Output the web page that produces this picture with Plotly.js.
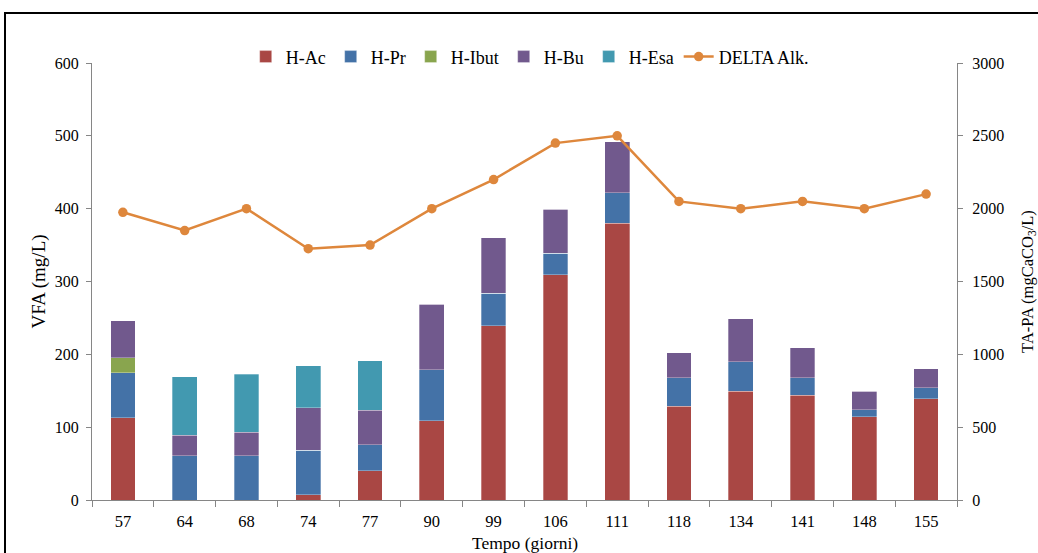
<!DOCTYPE html>
<html>
<head>
<meta charset="utf-8">
<script src="https://cdn.plot.ly/plotly-3.0.1.min.js"></script>
<style>
  html, body { margin: 0; padding: 0; overflow: hidden; background: #fff; }
  #chart { position: absolute; left: 0; top: 0; width: 1038px; height: 553px; }
  #frame { position: absolute; left: 4px; top: 12px; width: 1200px; height: 700px; border: 2px solid #000; pointer-events: none; }
</style>
</head>
<body>
<div id="chart"></div>
<div id="frame"></div>
<script>
const days = ['57','64','68','74','77','90','99','106','111','118','134','141','148','155'];
const hAc   = [113, 0, 0, 7, 40, 109, 239, 309, 380, 129, 149, 144, 114, 139];
const hPr   = [62, 61, 61, 61, 36, 70, 45, 30, 42, 39, 41, 24, 10, 15];
const hIbut = [20, 0, 0, 0, 0, 0, 0, 0, 0, 0, 0, 0, 0, 0];
const hBu   = [51, 28, 32, 59, 47, 90, 76, 60, 70, 34, 59, 41, 25, 26];
const hEsa  = [0, 80, 80, 57, 68, 0, 0, 0, 0, 0, 0, 0, 0, 0];
const deltaAlk = [1975, 1850, 2000, 1725, 1750, 2000, 2200, 2450, 2500, 2050, 2000, 2050, 2000, 2100];
const xTitle = 'Tempo (giorni)';

const font = 'Liberation Serif';
const axisColor = '#868686';

function bar(name, y, color) {
  return { type: 'bar', name: name, x: days, y: y, marker: { color: color, line: { color: 'rgba(255,255,255,0.6)', width: 0.5 } }, hoverinfo: 'x+y+name' };
}

const traces = [
  bar('H-Ac', hAc, '#A94744'),
  bar('H-Pr', hPr, '#4472A7'),
  bar('H-Ibut', hIbut, '#89A54E'),
  bar('H-Bu', hBu, '#71598D'),
  bar('H-Esa', hEsa, '#4299B0'),
  { type: 'scatter', mode: 'lines+markers', name: 'DELTA Alk.', x: days, y: deltaAlk, yaxis: 'y2',
    line: { color: '#DE873C', width: 2.5 }, marker: { color: '#DE873C', size: 9.5 } }
];

const layout = {
  width: 1038, height: 553,
  margin: { l: 92, r: 81, t: 63, b: 53 },
  paper_bgcolor: '#fff', plot_bgcolor: '#fff',
  barmode: 'stack', bargap: 0.6,
  font: { family: font, size: 16, color: '#000' },
  showlegend: true,
  legend: { orientation: 'h', x: 0.506, xanchor: 'center', y: 1.014, yanchor: 'middle',
            font: { family: font, size: 18, color: '#000' }, itemwidth: 30, traceorder: 'normal', tracegroupgap: 0 },
  xaxis: {
    type: 'category', range: [-0.5, 13.5], tickson: 'boundaries', ticks: 'outside', ticklen: 6, tickcolor: axisColor,
    showline: true, linecolor: axisColor, linewidth: 1, showgrid: false, zeroline: false,
    tickfont: { family: font, size: 16.5, color: '#000' }, ticklabelstandoff: 6
  },
  yaxis: {
    range: [0, 600], dtick: 100, ticks: 'outside', ticklen: 5, tickcolor: axisColor,
    showline: true, linecolor: axisColor, linewidth: 1, showgrid: false, zeroline: false,
    tickfont: { family: font, size: 16, color: '#000' }, ticklabelstandoff: 4,
    title: { text: 'VFA (mg/L)', font: { family: font, size: 19, color: '#000' }, standoff: 4 }
  },
  yaxis2: {
    range: [0, 3000], dtick: 500, overlaying: 'y', side: 'right', ticks: 'outside', ticklen: 5, tickcolor: axisColor,
    showline: true, linecolor: axisColor, linewidth: 1, showgrid: false, zeroline: false,
    tickfont: { family: font, size: 16, color: '#000' }, ticklabelstandoff: 6,
    title: { text: 'TA-PA (mgCaCO<sub>3</sub>/L)', font: { family: font, size: 16.5, color: '#000' }, standoff: 18 }
  },
  annotations: [
    { text: xTitle, xref: 'paper', yref: 'paper', x: 0.5, y: -0.0985, xanchor: 'center', yanchor: 'middle',
      showarrow: false, font: { family: font, size: 17.5, color: '#000' } }
  ]
};

Plotly.newPlot('chart', traces, layout, { displayModeBar: false, staticPlot: true });
</script>
</body>
</html>
